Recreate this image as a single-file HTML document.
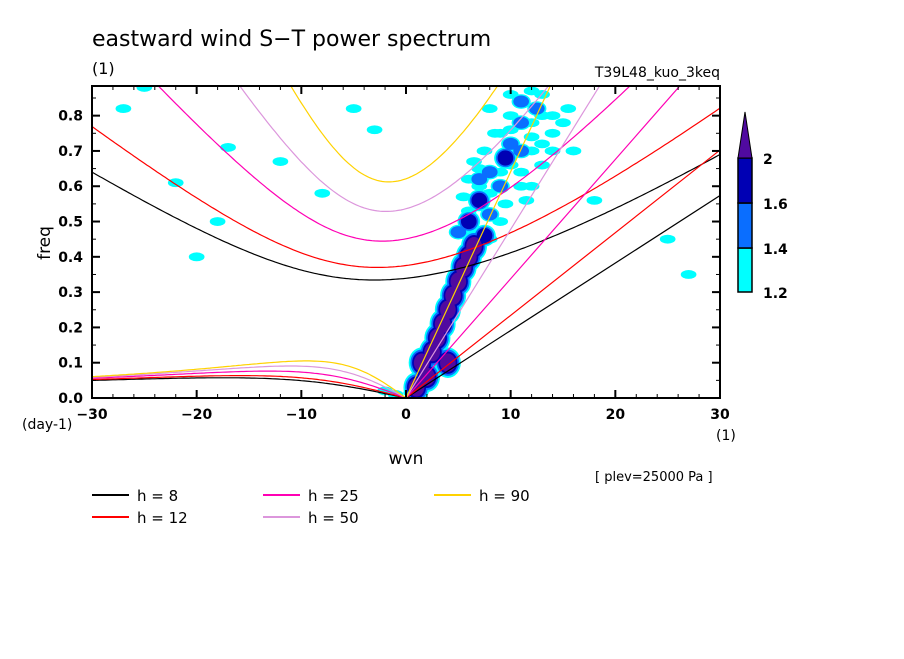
<!DOCTYPE html>
<html><head><meta charset="utf-8">
<style>
body{margin:0;background:#fff;}
svg text{font-family:"DejaVu Sans","Liberation Sans",sans-serif;fill:#000;}
</style></head>
<body>
<svg id="chart" width="904" height="654" viewBox="0 0 904 654" xmlns="http://www.w3.org/2000/svg">
<rect width="904" height="654" fill="#fff"/>
<defs><clipPath id="pc"><rect x="92" y="86" width="628" height="312"/></clipPath></defs>
<text x="92" y="46" font-size="22">eastward wind S−T power spectrum</text>
<text x="92" y="74" font-size="16">(1)</text>
<text x="720" y="77" font-size="14" text-anchor="end">T39L48_kuo_3keq</text>
<g id="blobs" clip-path="url(#pc)"></g>
<g id="curves" clip-path="url(#pc)"></g>
<g id="axes"></g>
<text transform="translate(50,243) rotate(-90)" font-size="17" text-anchor="middle">freq</text>
<text x="22" y="429" font-size="14">(day-1)</text>
<text x="716" y="440" font-size="14">(1)</text>
<text x="406" y="464" font-size="17" text-anchor="middle">wvn</text>
<text x="595" y="481" font-size="13">[ plev=25000 Pa ]</text>
<g id="legend"></g>
<g id="cbar"></g>
</svg>
<script>
const depths=[8,12,25,50,90];
const depthColors=['#000000','#ff0000','#ff00b4','#dc96dc','#ffd200'];
const xTicks=[-30,-20,-10,0,10,20,30];
const yTicks=[0,0.1,0.2,0.3,0.4,0.5,0.6,0.7,0.8];
const levelValues=[1.2,1.4,1.6,2];
const levelColors=['#00ffff','#0a6eff','#0000b4','#500aa0'];
const blobWvn=[1,2,1.5,2.5,3,3.5,4,4.5,5,5.5,6,6.5,7.5,6,8,7,9,8,9.5,10,8.5,11,12.5,13,10,14,12,6.5,9.5,15,-27,-17,-22,-5,-12,-25,-18,-20,-8,-3,27,25,18,-2,-1,0.5,4,7,11,13,16,
 5,6,7,8,9,10,11,12,13,14,5.5,7.5,9,11,12,6,8,10,12,9,11,13,15.5,10,12,14,8,7,11.5];
const blobFreq=[0.03,0.06,0.1,0.13,0.17,0.21,0.25,0.29,0.33,0.37,0.4,0.43,0.46,0.5,0.52,0.56,0.6,0.64,0.68,0.72,0.75,0.78,0.82,0.86,0.86,0.75,0.7,0.67,0.55,0.78,0.82,0.71,0.61,0.82,0.67,0.88,0.5,0.4,0.58,0.76,0.35,0.45,0.56,0.02,0.01,0.015,0.1,0.62,0.6,0.8,0.7,
 0.47,0.53,0.6,0.58,0.64,0.66,0.7,0.74,0.72,0.8,0.57,0.7,0.75,0.84,0.87,0.62,0.82,0.8,0.78,0.5,0.64,0.66,0.82,0.76,0.6,0.7,0.45,0.65,0.56];
const blobLevel=[4,4,4,4,4,4,4,4,4,4,4,4,3,3,2,3,2,2,3,2,1,2,2,1,1,1,1,1,1,1,1,1,1,1,1,1,1,1,1,1,1,1,1,1,1,1,4,2,1,1,1,
 2,1,1,1,1,1,2,1,1,1,1,1,1,2,1,1,1,1,1,1,1,1,1,1,1,1,1,1,1];
const X0=92,X1=720,Y0=398,Y1=86,FMAX=0.884;
const xs=w=>X0+(w+30)/60*(X1-X0);
const ys=f=>Y0-f/FMAX*(Y0-Y1);
const NS='http://www.w3.org/2000/svg';
function mk(tag,attrs,parent){const e=document.createElementNS(NS,tag);for(const k in attrs)e.setAttribute(k,attrs[k]);parent.appendChild(e);return e;}
const bg=document.getElementById('blobs');
for(let j=1;j<=4;j++){
  for(let i=0;i<blobWvn.length;i++){
    const L=blobLevel[i];
    if(L<j)continue;
    const s=1+0.22*(L-j);
    const e=mk('ellipse',{cx:xs(blobWvn[i]),cy:ys(blobFreq[i]),rx:0.75*s*10.47,ry:(0.008+0.0045*L)*s*353,fill:levelColors[j-1]},bg);
    
    
  }
}
const g=9.81,a=6.371e6,beta=2*7.292e-5/a,conv=86400/(2*Math.PI);
function roots(k,c){const p=-(c*c*k*k+3*beta*c),q=-beta*k*c*c;const m=2*Math.sqrt(-p/3);
  const th=Math.acos(Math.max(-1,Math.min(1,3*q/(2*p)*Math.sqrt(-3/p))))/3;
  return [0,1,2].map(n=>m*Math.cos(th-2*Math.PI*n/3)).sort((u,v)=>v-u);}
const cg=document.getElementById('curves');
depths.forEach((h,di)=>{
  const c=Math.sqrt(g*h);let ig='',er='',kv='';
  for(let w=-30;w<=30.001;w+=0.25){
    const k=w/a;const r=roots(k,c);
    ig+=(ig?'L':'M')+xs(w).toFixed(1)+','+ys(r[0]*conv).toFixed(1);
    if(w<=0){er+=(er?'L':'M')+xs(w).toFixed(1)+','+ys(Math.max(0,r[1])*conv).toFixed(1);}
  }
  kv='M'+xs(0)+','+ys(0)+'L'+xs(30)+','+ys(c*30/a*conv);
  [ig,er,kv].forEach((d,ii)=>{const e=mk('path',{d:d,fill:'none',stroke:depthColors[di],'stroke-width':1.2},cg);
    
    });
});
const ax=document.getElementById('axes');
mk('rect',{x:X0,y:Y1,width:X1-X0,height:Y0-Y1,fill:'none',stroke:'#000','stroke-width':2},ax);
for(let w=-30;w<=30;w+=2){const maj=w%10===0,L=maj?8:4;
  mk('line',{x1:xs(w),y1:Y0,x2:xs(w),y2:Y0-L,stroke:'#000','stroke-width':maj?2:1},ax);
  mk('line',{x1:xs(w),y1:Y1,x2:xs(w),y2:Y1+L,stroke:'#000','stroke-width':maj?2:1},ax);}
for(let f=0;f<=0.88;f+=0.05){const maj=Math.round(f*100)%10===0,L=maj?8:4;
  mk('line',{x1:X0,y1:ys(f),x2:X0+L,y2:ys(f),stroke:'#000','stroke-width':maj?2:1},ax);
  mk('line',{x1:X1,y1:ys(f),x2:X1-L,y2:ys(f),stroke:'#000','stroke-width':maj?2:1},ax);}
xTicks.forEach(v=>{const t=mk('text',{x:xs(v),y:419,'font-size':14,'font-weight':'bold','text-anchor':'middle'},ax);t.textContent=v<0?'−'+(-v):String(v);
  });
yTicks.forEach(v=>{const t=mk('text',{x:83,y:ys(v)+5,'font-size':14,'font-weight':'bold','text-anchor':'end'},ax);t.textContent=v.toFixed(1);
  });
const lg=document.getElementById('legend');
const pos=[[92,495],[92,517],[263,495],[263,517],[434,495]];
depths.forEach((h,i)=>{const [x,y]=pos[i];
  const l=mk('line',{x1:x,y1:y,x2:x+37,y2:y,stroke:depthColors[i],'stroke-width':2},lg);
  
  const t=mk('text',{x:x+45,y:y+6,'font-size':15,'xml:space':'preserve'},lg);t.textContent='h = '+(h<10?' '+h:h);
  });
const cb=document.getElementById('cbar');
const segY=[292,248,203,158];
for(let i=0;i<3;i++){const r=mk('rect',{x:738,y:segY[i+1],width:14,height:segY[i]-segY[i+1],fill:levelColors[i],stroke:'#000','stroke-width':1.5},cb);
  }
const tri=mk('polygon',{points:'738,158 752,158 745,112',fill:levelColors[3],stroke:'#000','stroke-width':1},cb);

levelValues.forEach((v,i)=>{const t=mk('text',{x:763,y:segY[i]+6,'font-size':14,'font-weight':'bold'},cb);t.textContent=String(v);
  });
</script>
</body></html>
